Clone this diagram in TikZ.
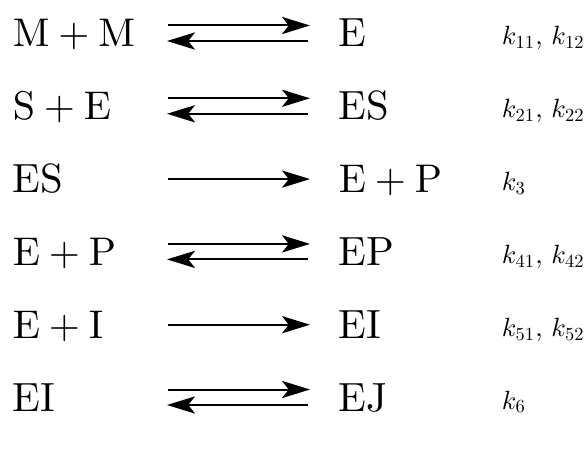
\documentclass[tikz,border=0pt]{standalone}
\usepackage{graphicx}
\usetikzlibrary{arrows.meta}
\newcommand{\rk}[1]{k_{\scalebox{0.7}{$#1$}}}
\newcommand{\ratelabel}[1]{\scalebox{0.66}{\fontsize{10}{12}\selectfont #1}}
\begin{document}
\begin{tikzpicture}[x=0.25pt,y=-0.25pt,
  species/.style={anchor=base west, inner sep=0pt, font=\fontsize{10.2}{12}\selectfont},
  rate/.style={anchor=base west, inner sep=0pt},
  rxn/.style={line width=0.5pt, -{Stealth[length=7pt,width=4.3pt,inset=1.7pt]}},
]
\useasboundingbox (0,0) rectangle (587,459);
\foreach \i/\lhs/\rhs/\rate/\kind in {
  1/{$\mathrm{M}+\mathrm{M}$}/{E}/{$\rk{11}$, $\rk{12}$}/2,
  2/{$\mathrm{S}+\mathrm{E}$}/{ES}/{$\rk{21}$, $\rk{22}$}/2,
  3/{ES}/{$\mathrm{E}+\mathrm{P}$}/{$\rk{3}$}/1,
  4/{$\mathrm{E}+\mathrm{P}$}/{EP}/{$\rk{41}$, $\rk{42}$}/2,
  5/{$\mathrm{E}+\mathrm{I}$}/{EI}/{$\rk{51}$, $\rk{52}$}/1,
  6/{EI}/{EJ}/{$\rk{6}$}/2}{
  \pgfmathsetmacro{\b}{47+72.8*(\i-1)}
  \node[species] (l\i) at (12,\b) {\lhs};
  \node[species] (r\i) at (338,\b) {\rhs};
  \node[rate] (k\i) at (501,\b-2) {\ratelabel{\rate}};
  \ifnum\kind=2
    \coordinate (fa\i) at (168,\b-21.5);
    \coordinate (fb\i) at (310,\b-21.5);
    \coordinate (ba\i) at (308,\b-6);
    \coordinate (bb\i) at (167,\b-6);
    \draw[rxn] (fa\i) -- (fb\i);
    \draw[rxn] (ba\i) -- (bb\i);
  \else
    \coordinate (fa\i) at (168,\b-13.5);
    \coordinate (fb\i) at (310,\b-13.5);
    \draw[rxn] (fa\i) -- (fb\i);
  \fi
}
\end{tikzpicture}
\end{document}
